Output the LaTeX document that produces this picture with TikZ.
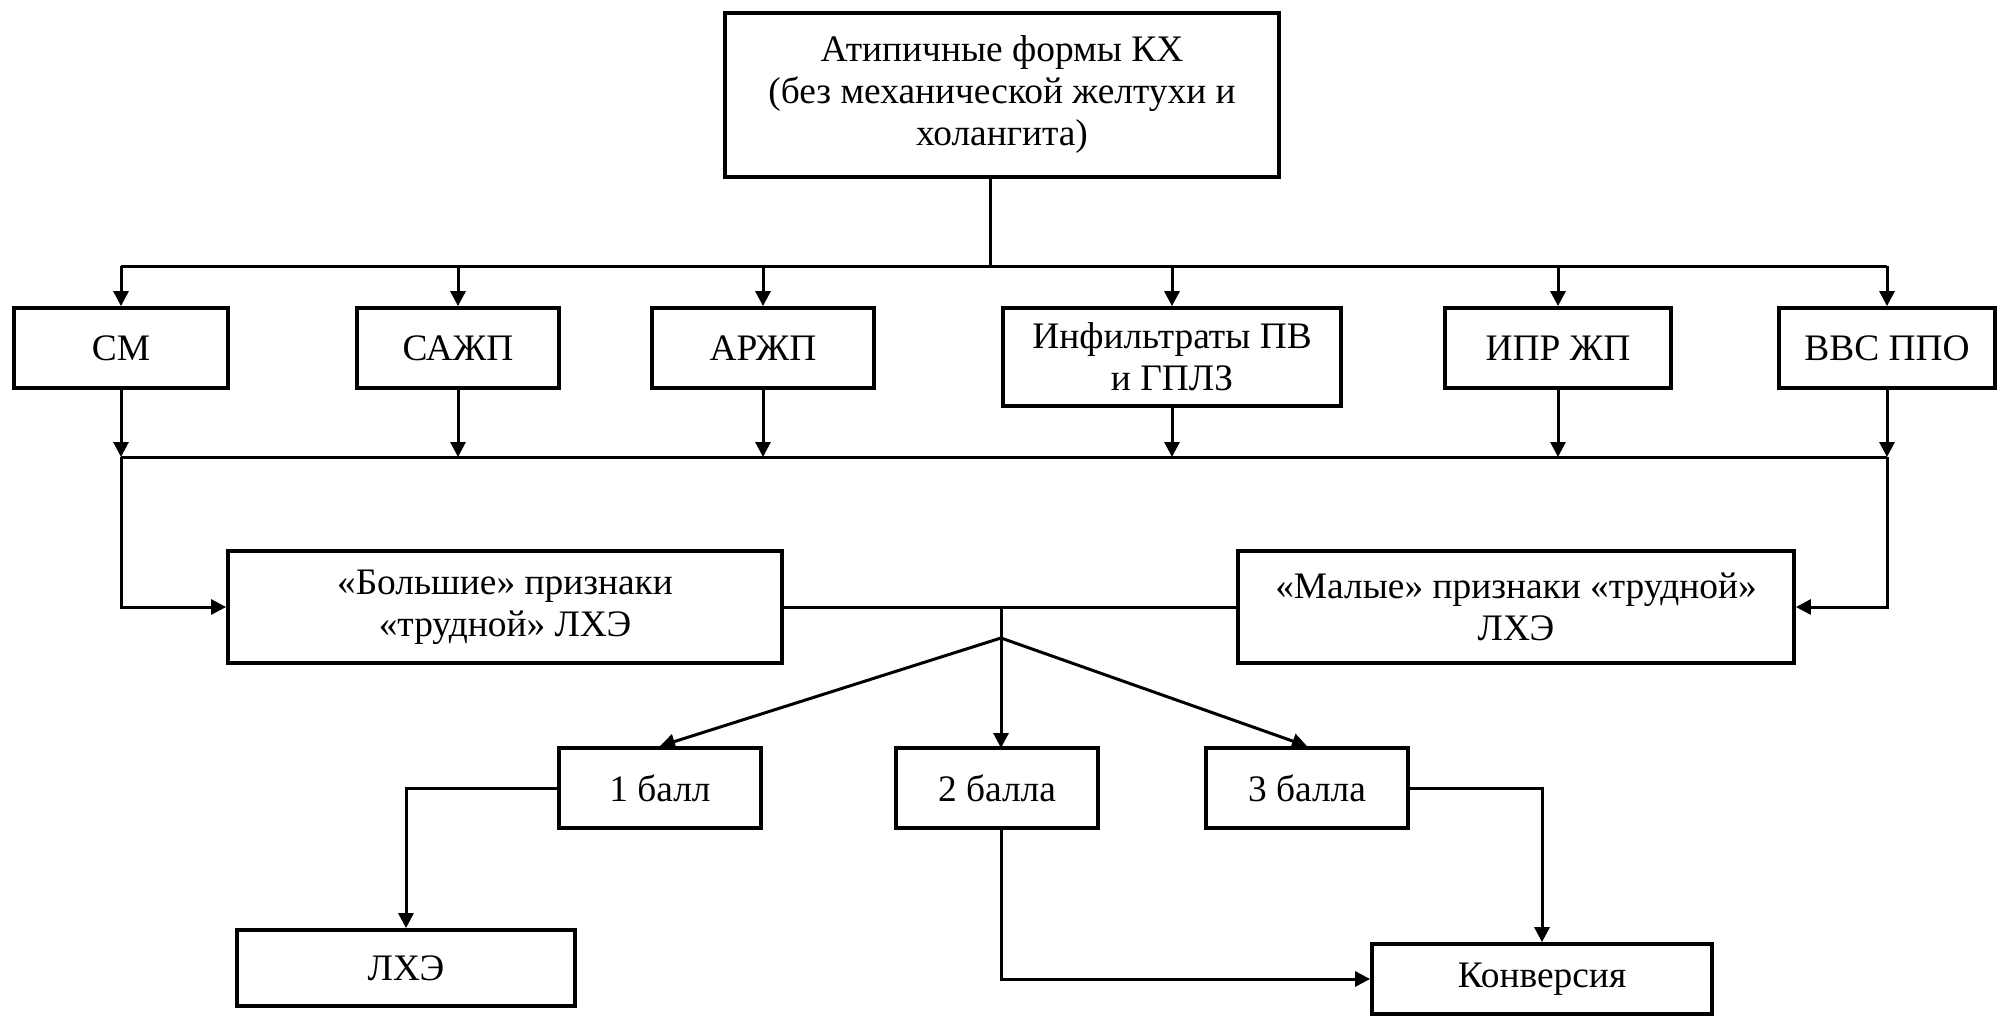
\documentclass[tikz,border=0pt]{standalone}
\usepackage{fontspec}
\setmainfont{Liberation Serif}
\usetikzlibrary{arrows.meta}

\tikzset{
  blk/.style={draw, line width=1.9pt, align=center, inner sep=0pt,
    font=\fontsize{18.7}{21}\selectfont},
  con/.style={line width=1.5pt},
  arr/.style={con, -{Triangle[length=7.5pt, width=7.5pt]}}
}

\begin{document}
\begin{tikzpicture}[x=0.5pt, y=-0.5pt]

  % Fix the size of the picture
  \useasboundingbox (0,0) rectangle (1998,1018);

  % Top block
  \node[blk, minimum width=277pt, minimum height=82pt] (top) at (1002,95)
    {Атипичные формы КХ\\(без механической желтухи и\\холангита)};

  % Row of the atypical forms
  \node[blk, minimum width=107pt, minimum height=40pt] (sm) at (121,348) {СМ};
  \node[blk, minimum width=101pt, minimum height=40pt] (sazhp) at (458,348) {САЖП};
  \node[blk, minimum width=111pt, minimum height=40pt] (arzhp) at (763,348) {АРЖП};
  \node[blk, minimum width=169pt, minimum height=49pt] (infil) at (1172,357)
    {Инфильтраты ПВ\\и ГПЛЗ};
  \node[blk, minimum width=113pt, minimum height=40pt] (iprzhp) at (1558,348) {ИПР ЖП};
  \node[blk, minimum width=108pt, minimum height=40pt] (vvsppo) at (1887,348) {ВВС ППО};

  % Signs of the difficult operation
  \node[blk, minimum width=277pt, minimum height=56pt] (big) at (505,607)
    {«Большие» признаки\\«трудной» ЛХЭ};
  \node[blk, minimum width=278pt, minimum height=56pt] (small) at (1516,607)
    {«Малые» признаки «трудной»\\ЛХЭ};

  % Scores
  \node[blk, minimum width=101pt, minimum height=40pt] (ball1) at (660,788) {1 балл};
  \node[blk, minimum width=101pt, minimum height=40pt] (ball2) at (997,788) {2 балла};
  \node[blk, minimum width=101pt, minimum height=40pt] (ball3) at (1307,788) {3 балла};

  % Outcomes
  \node[blk, minimum width=169pt, minimum height=38pt] (lhe) at (406,968) {ЛХЭ};
  \node[blk, minimum width=170pt, minimum height=35pt] (konv) at (1542,979) {Конверсия};

  % Upper bus
  \coordinate (bus1l) at (sm.north |- 0,266);
  \coordinate (bus1r) at (vvsppo.north |- 0,266);
  \draw[con] (top.south -| 990,0) -- (990,266);
  \draw[con] (bus1l) -- (bus1r);
  \foreach \b in {sm,sazhp,arzhp,infil,iprzhp,vvsppo}
    \draw[arr] (\b.north |- bus1l) -- (\b.north);

  % Lower bus
  \coordinate (bus2l) at (sm.south |- 0,457);
  \coordinate (bus2r) at (vvsppo.south |- 0,457);
  \foreach \b in {sm,sazhp,arzhp,infil,iprzhp,vvsppo}
    \draw[arr] (\b.south) -- (\b.south |- bus2l);
  \draw[con] (bus2l) -- (bus2r);
  \draw[arr] (bus2l) |- (big.west);
  \draw[arr] (bus2r) |- (small.east);

  % Join of the two groups of signs
  \draw[con] (big.east) -- (small.west);
  \coordinate (j) at (1001,607);
  \coordinate (k) at (1001,638);
  \draw[arr] (j) -- (1001,748);
  \draw[arr] (k) -- (ball1.north);
  \draw[arr] (k) -- (ball3.north);

  % From the scores to the outcomes
  \draw[arr] (ball1.west) -| (lhe.north);
  \draw[arr] (ball2.south -| 1001,0) |- (konv.west);
  \draw[arr] (ball3.east) -| (konv.north);

\end{tikzpicture}
\end{document}
